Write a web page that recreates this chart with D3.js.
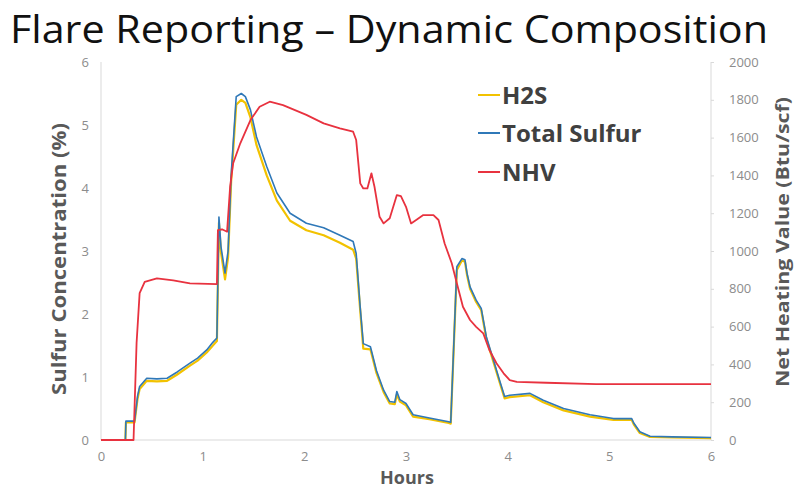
<!DOCTYPE html>
<html>
<head>
<meta charset="utf-8">
<script src="https://cdn.jsdelivr.net/npm/d3@7"></script>
<style>
  html, body { margin: 0; padding: 0; background: #fff; }
  svg { display: block; }
</style>
</head>
<body>
<svg id="chart" width="796" height="489"></svg>
<script>
// ---- Data ----
const sulfurHours = [0,0.24,0.245,0.32,0.33,0.36,0.38,0.45,0.55,0.65,0.75,0.875,0.95,1.04,1.1,1.14,1.16,1.18,1.22,1.25,1.28,1.33,1.38,1.42,1.47,1.53,1.63,1.73,1.86,2.02,2.19,2.35,2.48,2.51,2.55,2.58,2.65,2.71,2.78,2.84,2.89,2.91,2.94,3.0,3.07,3.23,3.42,3.44,3.5,3.55,3.58,3.6,3.63,3.69,3.74,3.79,3.86,3.92,3.97,4.02,4.22,4.35,4.55,4.81,5.04,5.22,5.24,5.3,5.4,5.62,6];
const totalSulfur = [0,0,0.3,0.3,0.3,0.7,0.85,0.98,0.97,0.98,1.08,1.22,1.3,1.43,1.55,1.62,3.54,3.07,2.65,3.0,4.2,5.45,5.5,5.45,5.24,4.81,4.34,3.92,3.6,3.44,3.37,3.25,3.15,2.96,2.1,1.53,1.48,1.1,0.79,0.61,0.6,0.77,0.64,0.58,0.4,0.35,0.29,0.28,2.75,2.88,2.86,2.65,2.43,2.22,2.09,1.64,1.27,0.95,0.69,0.71,0.74,0.63,0.5,0.4,0.34,0.34,0.27,0.13,0.06,0.05,0.04];
const h2s = [0,0,0.28,0.28,0.28,0.66,0.81,0.94,0.93,0.94,1.04,1.18,1.26,1.39,1.5,1.57,3.45,2.98,2.55,2.9,4.1,5.32,5.4,5.35,5.12,4.68,4.2,3.8,3.48,3.33,3.25,3.13,3.02,2.88,2.05,1.45,1.44,1.06,0.76,0.58,0.57,0.72,0.61,0.55,0.37,0.33,0.27,0.26,2.7,2.85,2.83,2.62,2.4,2.19,2.06,1.61,1.24,0.92,0.66,0.68,0.71,0.6,0.47,0.37,0.32,0.32,0.25,0.11,0.05,0.04,0.03];
const nhvHours = [0,0.32,0.35,0.38,0.43,0.55,0.71,0.875,1.14,1.15,1.19,1.24,1.27,1.30,1.37,1.47,1.56,1.66,1.79,2.02,2.19,2.35,2.48,2.51,2.55,2.58,2.62,2.66,2.69,2.74,2.78,2.84,2.91,2.95,3.0,3.05,3.1,3.17,3.27,3.32,3.38,3.45,3.5,3.56,3.63,3.69,3.76,3.82,3.89,3.96,4.02,4.09,4.38,4.87,6];
const nhv = [0,0,513,777,837,855,845,829,825,1111,1115,1102,1340,1464,1570,1693,1763,1790,1772,1720,1675,1649,1631,1587,1358,1331,1331,1411,1340,1181,1146,1173,1296,1290,1234,1146,1164,1190,1190,1164,1040,935,829,705,635,599,564,476,406,353,317,308,303,296,296];

const xTicks = [0,1,2,3,4,5,6];
const leftTicks = [0,1,2,3,4,5,6];
const rightTicks = [0,200,400,600,800,1000,1200,1400,1600,1800,2000];
const seriesNames = ["H2S","Total Sulfur","NHV"];
const seriesColors = ["#F2C200","#2F78B8","#E8323F"];
const titleText = "Flare Reporting \u2013 Dynamic Composition";

// ---- Layout ----
const svg = d3.select("#chart");
const L = 101, R = 711, T = 62, B = 440;
const x = d3.scaleLinear().domain([0,6]).range([L,R]);
const yL = d3.scaleLinear().domain([0,6]).range([B,T]);
const yR = d3.scaleLinear().domain([0,2000]).range([B,T]);

// Title
svg.append("text")
  .attr("x", 10).attr("y", 43)
  .attr("font-family", "Open Sans, sans-serif")
  .attr("font-size", 39)
  .attr("fill", "#111")
  .attr("textLength", 758)
  .attr("lengthAdjust", "spacingAndGlyphs")
  .text(titleText);

// Axis lines
const axisColor = "#D9D9D9";
svg.append("line").attr("x1", L).attr("x2", L).attr("y1", T).attr("y2", B).attr("stroke", axisColor);
svg.append("line").attr("x1", R).attr("x2", R).attr("y1", T).attr("y2", B).attr("stroke", axisColor);
svg.append("line").attr("x1", L).attr("x2", R).attr("y1", B).attr("y2", B).attr("stroke", axisColor);

// Axes via d3
const tickFont = "Open Sans, sans-serif";
const tickColor = "#8C8C8C";

const gx = svg.append("g").attr("transform", `translate(0,${B})`)
  .call(d3.axisBottom(x).tickValues(xTicks).tickSize(0).tickPadding(12).tickFormat(d3.format("d")));
const gl = svg.append("g").attr("transform", `translate(${L},0)`)
  .call(d3.axisLeft(yL).tickValues(leftTicks).tickSize(0).tickPadding(12).tickFormat(d3.format("d")));
const gr = svg.append("g").attr("transform", `translate(${R},0)`)
  .call(d3.axisRight(yR).tickValues(rightTicks).tickSize(3).tickPadding(15).tickFormat(d3.format("d")));

[gx, gl, gr].forEach(g => {
  g.select(".domain").remove();
  g.selectAll(".tick line").attr("stroke", axisColor);
  g.selectAll("text").attr("font-family", tickFont).attr("font-size", 13).attr("fill", tickColor);
});

// Axis titles
const titleColor = "#595959";
svg.append("text")
  .attr("transform", `translate(66,259) rotate(-90)`)
  .attr("text-anchor", "middle")
  .attr("font-family", "Open Sans, sans-serif").attr("font-weight", "bold")
  .attr("font-size", 19).attr("fill", titleColor)
  .attr("textLength", 272).attr("lengthAdjust", "spacingAndGlyphs")
  .text("Sulfur Concentration (%)");
svg.append("text")
  .attr("transform", `translate(789,242) rotate(-90)`)
  .attr("text-anchor", "middle")
  .attr("font-family", "Open Sans, sans-serif").attr("font-weight", "bold")
  .attr("font-size", 18).attr("fill", titleColor)
  .attr("textLength", 290).attr("lengthAdjust", "spacingAndGlyphs")
  .text("Net Heating Value (Btu/scf)");
svg.append("text")
  .attr("x", 407).attr("y", 484)
  .attr("text-anchor", "middle")
  .attr("font-family", "Open Sans, sans-serif").attr("font-weight", "bold")
  .attr("font-size", 18).attr("fill", titleColor)
  .text("Hours");

// Lines
const lineL = d3.line().x(d => x(d[0])).y(d => yL(d[1]));
const lineR = d3.line().x(d => x(d[0])).y(d => yR(d[1]));
const h2sData = sulfurHours.map((h,i) => [h, h2s[i]]);
const tsData = sulfurHours.map((h,i) => [h, totalSulfur[i]]);
const nhvData = nhvHours.map((h,i) => [h, nhv[i]]);

svg.append("path").datum(h2sData).attr("d", lineL).attr("fill","none")
  .attr("stroke", seriesColors[0]).attr("stroke-width", 2.2).attr("stroke-linejoin","round");
svg.append("path").datum(tsData).attr("d", lineL).attr("fill","none")
  .attr("stroke", seriesColors[1]).attr("stroke-width", 1.6).attr("stroke-linejoin","round");
svg.append("path").datum(nhvData).attr("d", lineR).attr("fill","none")
  .attr("stroke", seriesColors[2]).attr("stroke-width", 1.8).attr("stroke-linejoin","round");

// Legend
const legY = [95, 133, 172];
const leg = svg.append("g");
seriesNames.forEach((n, i) => {
  leg.append("line").attr("x1", 478).attr("x2", 500).attr("y1", legY[i]).attr("y2", legY[i])
    .attr("stroke", seriesColors[i]).attr("stroke-width", 2);
  leg.append("text").attr("x", 502).attr("y", legY[i] + 9)
    .attr("font-family", "Open Sans, sans-serif").attr("font-weight", "bold")
    .attr("font-size", 24).attr("fill", "#404040")
    .text(n);
});
</script>
</body>
</html>
